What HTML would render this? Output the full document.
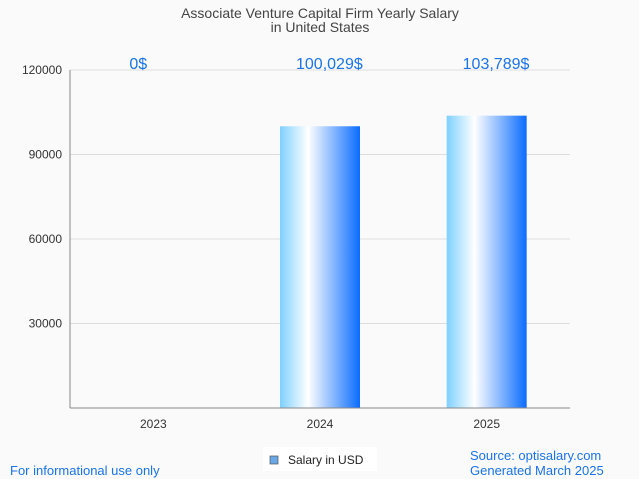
<!DOCTYPE html>
<html><head><meta charset="utf-8"><style>
body{margin:0;background:#fafafa;font-family:"Liberation Sans",sans-serif}
</style></head><body>
<svg width="639" height="479" xmlns="http://www.w3.org/2000/svg" style="display:block">
<defs><linearGradient id="g" x1="0" x2="1" y1="0" y2="0">
<stop offset="0" stop-color="#7fd0ff"/><stop offset="0.35" stop-color="#ffffff"/><stop offset="1" stop-color="#0a6cff"/>
</linearGradient></defs>
<rect width="639" height="479" fill="#fafafa"/>
<text x="320" y="18" text-anchor="middle" font-size="14" fill="#444">Associate Venture Capital Firm Yearly Salary</text>
<text x="320" y="32" text-anchor="middle" font-size="14" fill="#444">in United States</text>
<g id="grid"></g><g id="bars"></g>
<line x1="70" y1="70" x2="70" y2="408" stroke="#888"/>
<line x1="70" y1="408" x2="570" y2="408" stroke="#888"/>
<rect x="263" y="447" width="114" height="24" fill="#fff"/>
<rect x="270" y="456" width="8" height="8" fill="#6aa8e8" stroke="#555" stroke-width="0.7"/>
<text x="288" y="464" font-size="12" fill="#222">Salary in USD</text>
<text x="10" y="475" font-size="13" fill="#1a73e8">For informational use only</text>
<text x="470" y="460" font-size="13" fill="#1a73e8">Source: optisalary.com</text>
<text x="470" y="475" font-size="13" fill="#1a73e8">Generated March 2025</text>
</svg>
<script>
const categories=["2023","2024","2025"];
const values=[0,100029,103789];
const labels=["0$","100,029$","103,789$"];
const yTicks=[30000,60000,90000,120000];
const x0=70,x1=570,yTop=70,yBot=408,yMax=120000;
const ns="http://www.w3.org/2000/svg";
const y=v=>yBot-(yBot-yTop)*v/yMax;
const bw=(x1-x0)/categories.length;
const cx=i=>x0+bw*(i+0.5);
const grid=document.getElementById('grid'),bars=document.getElementById('bars');
function mk(t,a,p){const e=document.createElementNS(ns,t);for(const k in a)e.setAttribute(k,a[k]);p.appendChild(e);return e;}
yTicks.forEach(t=>{
 const l=mk('line',{x1:x0,x2:x1,y1:y(t),y2:y(t),stroke:'#ddd'},grid);
 
 
 const tx=mk('text',{x:62,y:y(t)+4,'text-anchor':'end','font-size':12,fill:'#333'},grid);
 tx.textContent=t;
 
 
});
categories.forEach((c,i)=>{
 const r=mk('rect',{x:cx(i)-40,y:y(values[i]),width:80,height:yBot-y(values[i]),fill:'url(#g)'},bars);
 
 
 const v=mk('text',{x:cx(i)-24,y:69,'text-anchor':'start','font-size':16,fill:'#1a73e8'},bars);
 v.textContent=labels[i];
 
 
 const t=mk('text',{x:cx(i),y:428,'text-anchor':'middle','font-size':12,fill:'#333'},bars);
 t.textContent=c;
 
 
});
</script>
</body></html>
